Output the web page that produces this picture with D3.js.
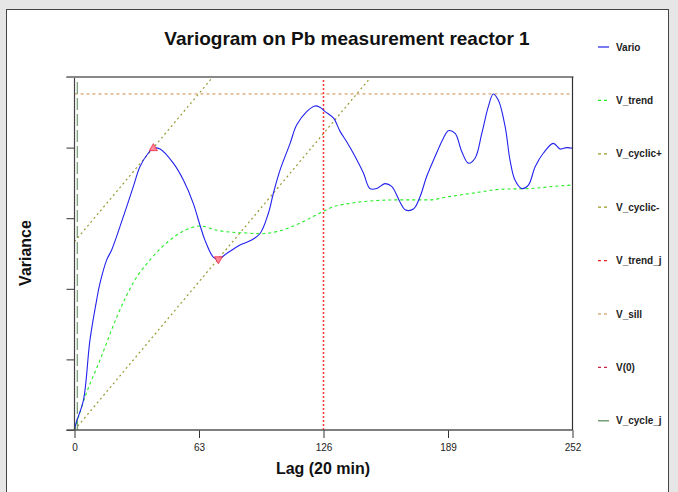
<!DOCTYPE html>
<html><head><meta charset="utf-8">
<script src="https://cdn.jsdelivr.net/npm/d3@7"></script>
<style>
html,body{margin:0;padding:0;background:#e6e6e6;}
svg{display:block;font-family:"Liberation Sans",Arial,sans-serif;}
</style></head>
<body><svg id="c" width="678" height="492"></svg>
<script>
// Data (lag in 20-min steps, variance in plot units)
const varioLag = [0,0.8,4.5,7.8,11.2,12.9,16.3,18.8,23.0,29.8,33.1,37.3,39.9,43.3,50.0,55.1,60.1,63.5,66.0,70.2,72.8,77.0,83.8,88.8,93.8,98.1,100.6,104.0,109.1,112.4,117.5,121.7,124.2,126.8,131.0,134.4,137.8,141.1,146.2,149.5,152.9,157.1,160.5,164.7,167.3,171.5,174.8,178.2,182.4,186.6,189.2,192.6,196.0,199.3,202.7,206.1,209.4,211.9,214.5,217.9,220.4,222.9,226.3,229.7,233.1,237.2,242.3,245.7,249.1,252];
const varioVal = [0,0.10,0.42,1.27,1.84,2.08,2.41,2.55,2.88,3.45,3.73,3.92,3.99,3.98,3.78,3.54,3.21,2.90,2.69,2.45,2.42,2.50,2.62,2.68,2.78,3.07,3.35,3.68,4.06,4.32,4.51,4.59,4.57,4.51,4.42,4.23,4.08,3.92,3.64,3.42,3.42,3.49,3.45,3.23,3.12,3.13,3.30,3.59,3.87,4.13,4.24,4.20,3.94,3.78,3.85,4.20,4.58,4.76,4.67,4.30,3.82,3.54,3.42,3.47,3.73,3.92,4.06,3.98,4.00,3.99];
const trendLag = [0,6,12.9,21.4,29.6,39.2,48.3,56,63.5,72.0,80,87.1,93.9,102.3,114.1,122.6,130.8,139.4,152.9,164.7,179.9,188.4,205.2,215.3,230.5,242.2,252];
const trendVal = [0,0.52,0.99,1.60,2.08,2.44,2.69,2.83,2.89,2.83,2.80,2.79,2.78,2.81,2.93,3.05,3.16,3.21,3.25,3.26,3.26,3.30,3.37,3.41,3.42,3.45,3.47];
const cyclicPlusLag = [0,70], cyclicPlusVal = [2.667,5];
const cyclicMinusLag = [0,150], cyclicMinusVal = [0,5];
const sillVal = 4.76;
const trendJLag = 126;
const cycleJLag = 1.4;
const peakPt = [39.9,3.99];
const troughPt = [72.8,2.42];
const xTicks = [0,63,126,189,252];
const yTicks = [0,1,2,3,4,5];
const legendNames = ["Vario","V_trend","V_cyclic+","V_cyclic-","V_trend_j","V_sill","V(0)","V_cycle_j"];
const legendColors = ["#2020ee","#22ee22","#999922","#999922","#ee2222","#cc8844","#cc2244","#558855"];
const legendDash = [null,"3,3","3,3","3,3","3,3","3,3","3,3",null];

const svg = d3.select("#c");
// panel
svg.append("rect").attr("x",6.5).attr("y",9.5).attr("width",662).attr("height",490)
  .attr("fill","#fff").attr("stroke","#444").attr("stroke-width",1);

const L=74.5,R=572.5,T=77,B=430;
const x = d3.scaleLinear().domain([0,252]).range([L,R]);
const y = d3.scaleLinear().domain([0,5]).range([B,T]);

const defs = svg.append("defs");
defs.append("clipPath").attr("id","clip").append("rect").attr("x",L).attr("y",T).attr("width",R-L).attr("height",B-T);

// Title
svg.append("text").attr("x",347).attr("y",45).attr("text-anchor","middle")
  .attr("font-size",19).attr("font-weight","bold").attr("fill","#111").text("Variogram on Pb measurement reactor 1");

const g = svg.append("g").attr("clip-path","url(#clip)");
const line = d3.line().x(d=>x(d[0])).y(d=>y(d[1]));
const zip = (a,b)=>a.map((v,i)=>[v,b[i]]);

// sill
g.append("path").attr("d",line([[0,sillVal],[252,sillVal]])).attr("stroke","#cc8844").attr("stroke-width",1).attr("stroke-dasharray","3,3").attr("fill","none");
// cyclic lines
g.append("path").attr("d",line(zip(cyclicPlusLag,cyclicPlusVal))).attr("stroke","#999933").attr("stroke-width",1.2).attr("stroke-dasharray","2,3").attr("fill","none");
g.append("path").attr("d",line(zip(cyclicMinusLag,cyclicMinusVal))).attr("stroke","#999933").attr("stroke-width",1.2).attr("stroke-dasharray","2,3").attr("fill","none");
// trend_j vertical
const xj = Math.round(x(trendJLag)-0.5)+0.5;
g.append("line").attr("x1",xj).attr("x2",xj).attr("y1",y(0)).attr("y2",y(5)).attr("stroke","#ff3333").attr("stroke-width",1.5).attr("stroke-dasharray","2,2");
// cycle_j vertical
g.append("path").attr("d",line([[cycleJLag,0],[cycleJLag,5]])).attr("stroke","#558855").attr("stroke-width",1).attr("stroke-dasharray","12,4").attr("fill","none");
// trend curve
g.append("path").attr("d",d3.line().curve(d3.curveMonotoneX).x(d=>x(d[0])).y(d=>y(d[1]))(zip(trendLag,trendVal)))
  .attr("stroke","#22ee22").attr("stroke-width",1.1).attr("stroke-dasharray","3,3").attr("fill","none");
// vario
g.append("path").attr("d",d3.line().curve(d3.curveCatmullRom).x(d=>x(d[0])).y(d=>y(d[1]))(zip(varioLag,varioVal)))
  .attr("stroke","#2222ee").attr("stroke-width",1.1).attr("fill","none");
// markers
const tri = d3.symbol().type(d3.symbolTriangle).size(28);
svg.append("path").attr("d",tri()).attr("transform",`translate(${x(peakPt[0])},${y(peakPt[1])})`)
  .attr("fill","#ff8899").attr("stroke","#ee2244").attr("stroke-width",0.8);
svg.append("path").attr("d",tri()).attr("transform",`translate(${x(troughPt[0])},${y(troughPt[1])}) rotate(180)`)
  .attr("fill","#ff8899").attr("stroke","#ee2244").attr("stroke-width",0.8);

// axes
const xa = svg.append("g").attr("transform",`translate(0,${B})`)
  .call(d3.axisBottom(x).tickValues(xTicks).tickSize(8).tickSizeOuter(0));
xa.select(".domain").remove();
xa.selectAll("line").attr("stroke","#333");
xa.selectAll("text").attr("font-size",10).attr("fill","#222").attr("dy","1em");
const ya = svg.append("g").attr("transform",`translate(${L},0)`)
  .call(d3.axisLeft(y).tickValues(yTicks).tickSize(8).tickFormat(""));
ya.select(".domain").remove();
ya.selectAll("line").attr("stroke","#333");
// frame lines
svg.append("line").attr("x1",L-8).attr("x2",R).attr("y1",B).attr("y2",B).attr("stroke","#555").attr("stroke-width",1.5);
svg.append("line").attr("x1",L).attr("x2",L).attr("y1",T).attr("y2",B).attr("stroke","#444").attr("stroke-width",1.2);
svg.append("line").attr("x1",L-8).attr("x2",R+1).attr("y1",T).attr("y2",T).attr("stroke","#888").attr("stroke-width",2);
svg.append("line").attr("x1",R).attr("x2",R).attr("y1",T).attr("y2",B).attr("stroke","#333").attr("stroke-width",1.2);

// axis titles
svg.append("text").attr("x",323).attr("y",474).attr("text-anchor","middle").attr("font-size",16).attr("font-weight","bold").attr("fill","#111").text("Lag (20 min)");
svg.append("text").attr("transform","translate(31,253) rotate(-90)").attr("text-anchor","middle").attr("font-size",16).attr("font-weight","bold").attr("fill","#111").text("Variance");

// legend
const lg = svg.append("g");
legendNames.forEach((n,i)=>{
  const yy = 47 + i*53.4;
  lg.append("line").attr("x1",598).attr("x2",609).attr("y1",yy).attr("y2",yy)
    .attr("stroke",legendColors[i]).attr("stroke-width",1.2).attr("stroke-dasharray",legendDash[i]);
  lg.append("text").attr("x",616).attr("y",yy+3.5).attr("font-size",10).attr("font-weight","bold").attr("fill","#222").text(n);
});
</script></body></html>
